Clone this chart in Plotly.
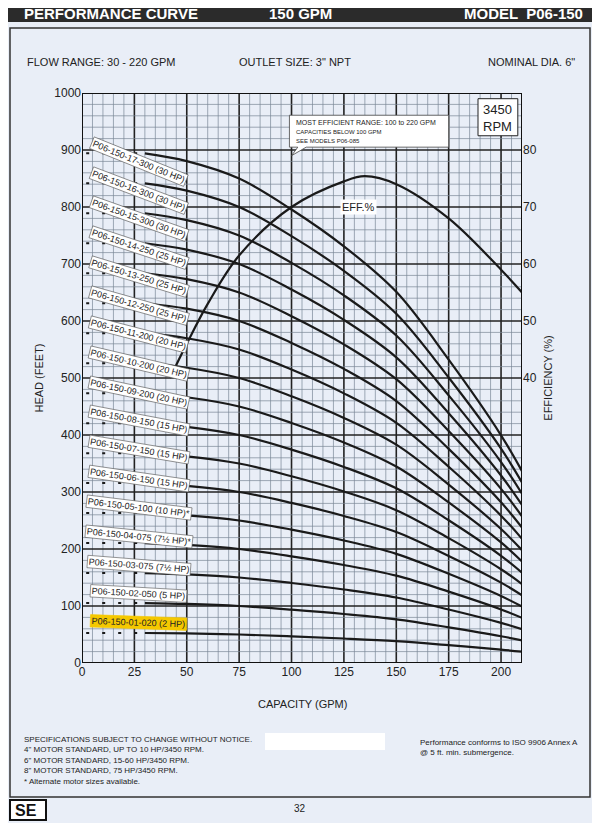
import plotly.graph_objects as go

gpm = [30, 50, 75, 100, 125, 150, 175, 200, 210]
head_per_stage = [52.6, 51.8, 50.0, 46.8, 43.0, 38.3, 31.3, 23.5, 19.8]
stages = [1, 2, 3, 4, 5, 6, 7, 8, 9, 10, 11, 12, 13, 14, 15, 16, 17]
labels = ["P06-150-01-020 (2 HP)", "P06-150-02-050 (5 HP)", "P06-150-03-075 (7½ HP)",
          "P06-150-04-075 (7½ HP)*", "P06-150-05-100 (10 HP)*", "P06-150-06-150 (15 HP)",
          "P06-150-07-150 (15 HP)", "P06-150-08-150 (15 HP)", "P06-150-09-200 (20 HP)",
          "P06-150-10-200 (20 HP)", "P06-150-11-200 (20 HP)", "P06-150-12-250 (25 HP)",
          "P06-150-13-250 (25 HP)", "P06-150-14-250 (25 HP)", "P06-150-15-300 (30 HP)",
          "P06-150-16-300 (30 HP)", "P06-150-17-300 (30 HP)"]
eff_gpm = [42, 50, 60, 75, 100, 125, 135, 150, 175, 200, 210]
eff_pct = [40, 46, 53, 61.5, 70, 74.5, 75.4, 74, 68, 59, 55]

F = "Arial, Liberation Sans, sans-serif"
fig = go.Figure()
shapes = []
ann = []

for n, lab in zip(stages, labels):
    h = [n * v for v in head_per_stage]
    fig.add_trace(go.Scatter(x=gpm, y=h, mode="lines", line=dict(color="#1a1a1a", width=2.2, shape="spline"),
                             showlegend=False, hoverinfo="skip"))
    fig.add_trace(go.Scatter(x=[2, 30], y=[h[0], h[0]], mode="lines",
                             line=dict(color="#1a1a1a", width=2, dash="3px,13px"), showlegend=False, hoverinfo="skip"))
    ang = 2 + 20 * (n - 1) / 16
    ann.append(dict(x=27, y=h[0] + 20 - 2 * n, xref="x", yref="y", text=lab, showarrow=False, textangle=ang,
                    font=dict(family=F, size=9, color="#222"),
                    bgcolor="#f5c800" if n == 1 else "white", bordercolor="#555" if n != 1 else "#f5c800",
                    borderwidth=0.6, borderpad=1))

fig.add_trace(go.Scatter(x=eff_gpm, y=eff_pct, yaxis="y2", mode="lines",
                         line=dict(color="#1a1a1a", width=2.2, shape="spline"), showlegend=False, hoverinfo="skip"))

# grid
for v in range(5, 210, 5):
    shapes.append(dict(type="line", xref="x", yref="y", x0=v, x1=v, y0=0, y1=1000,
                       line=dict(color="#222" if v % 25 == 0 else "#7a8796", width=1.6 if v % 25 == 0 else 0.7), layer="below"))
for v in range(20, 1000, 20):
    shapes.append(dict(type="line", xref="x", yref="y", x0=0, x1=210, y0=v, y1=v,
                       line=dict(color="#222" if v % 100 == 0 else "#7a8796", width=1.6 if v % 100 == 0 else 0.7), layer="below"))
shapes.append(dict(type="rect", xref="x", yref="y", x0=0, x1=210, y0=0, y1=1000, line=dict(color="#111", width=2)))

W, H = 592, 815
OFF = 8
def px(xp, yp):
    return ((xp - 82) / 440.0, (663 - yp) / 570.0)

hx0, hy0 = px(OFF, 22); hx1, hy1 = px(600, OFF)
shapes.append(dict(type="rect", xref="paper", yref="paper", x0=hx0, x1=hx1, y0=hy0, y1=hy1,
                   fillcolor="#2b2b2b", line=dict(width=0), layer="below"))
x0, y0 = px(10, 797); x1, y1 = px(590, 28)
shapes.append(dict(type="rect", xref="paper", yref="paper", x0=x0, x1=x1, y0=y0, y1=y1,
                   line=dict(color="#333", width=1.5)))
bx0, by0 = px(265, 750); bx1, by1 = px(385, 733)
shapes.append(dict(type="rect", xref="paper", yref="paper", x0=bx0, x1=bx1, y0=by0, y1=by1,
                   fillcolor="white", line=dict(width=0)))
lx0, ly0 = px(10, 820); lx1, ly1 = px(46, 800)
shapes.append(dict(type="rect", xref="paper", yref="paper", x0=lx0, x1=lx1, y0=ly0, y1=ly1,
                   fillcolor="white", line=dict(color="#111", width=2)))
shapes.append(dict(type="rect", xref="x", yref="y", x0=189, x1=208, y0=925, y1=990,
                   fillcolor="white", line=dict(color="#222", width=1)))
shapes.append(dict(type="path", xref="x", yref="y",
                   path="M 99,961 L 175,961 L 175,905 L 107,905 L 100,890 L 103,905 L 99,905 Z",
                   fillcolor="white", line=dict(color="#444", width=0.8)))

def P(text, xp, yp, size=10, color="#222", xanchor="left", bold=False, yanchor="middle"):
    a, b = px(xp, yp)
    ann.append(dict(x=a, y=b, xref="paper", yref="paper", text=f"<b>{text}</b>" if bold else text,
                    showarrow=False, xanchor=xanchor, yanchor=yanchor, font=dict(family=F, size=size, color=color),
                    align="left"))

P("PERFORMANCE CURVE", 22, 13, 15, "white", bold=True)
P("150 GPM", 300, 13, 15, "white", "center", True)
P("MODEL  P06-150", 585, 13, 15, "white", "right", True)
P("FLOW RANGE: 30 - 220 GPM", 25, 62, 11)
P('OUTLET SIZE: 3" NPT', 237, 62, 11)
P('NOMINAL DIA. 6"', 577, 62, 11, xanchor="right")
P("CAPACITY (GPM)", 302, 704, 11, xanchor="center")
P("SPECIFICATIONS SUBJECT TO CHANGE WITHOUT NOTICE.<br>4\" MOTOR STANDARD, UP TO 10 HP/3450 RPM.<br>"
  "6\" MOTOR STANDARD, 15-60 HP/3450 RPM.<br>8\" MOTOR STANDARD, 75 HP/3450 RPM.<br>* Alternate motor sizes available.",
  22, 760, 8)
P("Performance conforms to ISO 9906 Annex A<br>@ 5 ft. min. submergence.", 418, 747, 8)
P("32", 300, 808, 10, xanchor="center")
P("<b>SE</b>", 13, 810, 16, "#111")

ann.append(dict(x=198.5, y=957, xref="x", yref="y", text="3450<br>RPM", showarrow=False,
                font=dict(family=F, size=13, color="#222")))
ann.append(dict(x=101, y=933, xref="x", yref="y", xanchor="left", align="left", showarrow=False,
                text="MOST EFFICIENT RANGE: 100 to 220 GPM<br><span style='font-size:6px'>CAPACITIES BELOW 100 GPM<br>SEE MODELS P06-085</span>",
                font=dict(family=F, size=7, color="#222")))
ann.append(dict(x=132, y=800, xref="x", yref="y", text="EFF.%", showarrow=False, bgcolor="white",
                font=dict(family=F, size=11, color="#222"), borderpad=1))

fig.update_layout(
    width=W, height=H, margin=dict(l=82 - OFF, r=W - (522 - OFF), t=93 - OFF, b=H - (663 - OFF)),
    paper_bgcolor="#e9eef7", plot_bgcolor="#e9eef7",
    shapes=shapes, annotations=ann, showlegend=False,
    xaxis=dict(range=[0, 210], tickvals=[0, 25, 50, 75, 100, 125, 150, 175, 200], showgrid=False, zeroline=False,
               tickfont=dict(family=F, size=12, color="#222"), ticks="", automargin=False),
    yaxis=dict(range=[0, 1000], dtick=100, showgrid=False, zeroline=False, automargin=False,
               tickfont=dict(family=F, size=12, color="#222"),
               title=dict(text="HEAD (FEET)", font=dict(family=F, size=11, color="#222"), standoff=8)),
    yaxis2=dict(range=[-10, 90], overlaying="y", side="right", tickvals=[40, 50, 60, 70, 80], showgrid=False,
                zeroline=False, automargin=False, tickfont=dict(family=F, size=12, color="#222"),
                title=dict(text="EFFICIENCY (%)", font=dict(family=F, size=11, color="#222"), standoff=8)),
)
fig.write_html("out.html")
